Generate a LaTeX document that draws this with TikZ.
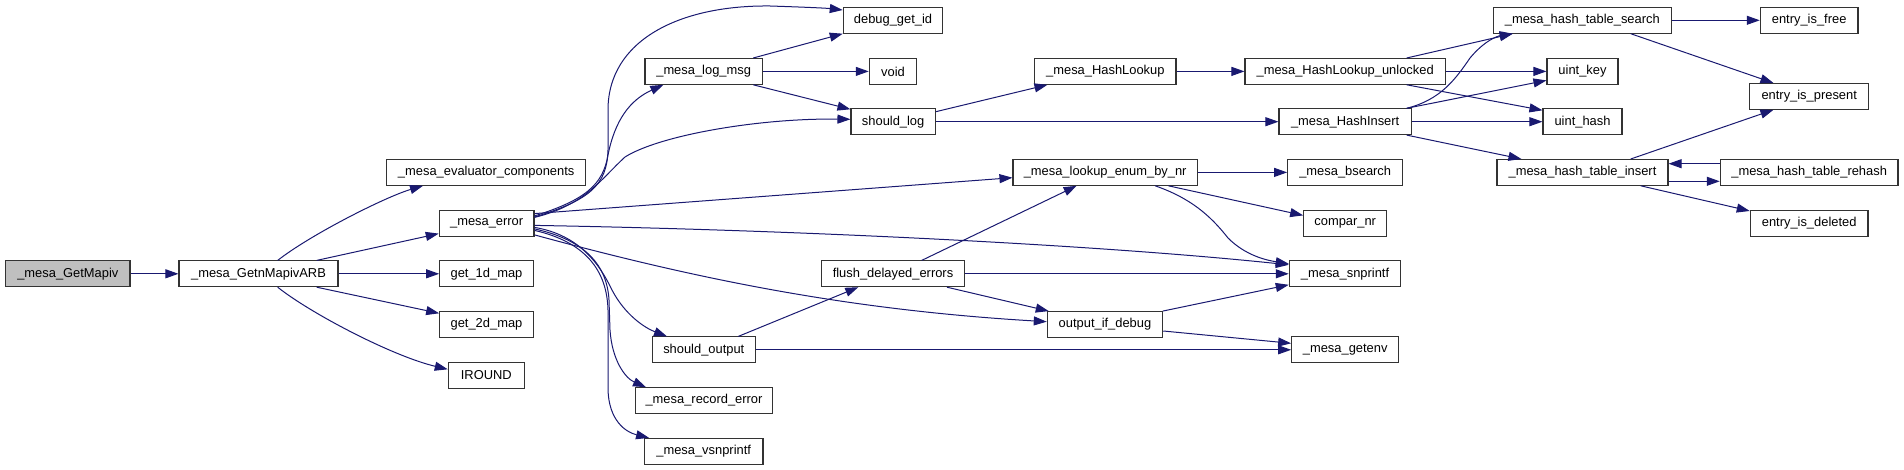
\documentclass[tikz,border=0pt]{standalone}
\usepackage{fontspec}
\setmainfont{Liberation Sans}
\usetikzlibrary{arrows.meta}
\begin{document}
\begin{tikzpicture}[x=1pt,y=-1pt,
  fn/.style={draw=black!80, fill=white, line width=1.1pt, inner sep=0pt,
    minimum height=25.7pt, font=\fontsize{12.9}{14}\selectfont},
  root/.style={fn, fill=black!25},
  call/.style={draw={rgb,255:red,25;green,25;blue,112}, line width=1pt,
    arrows={-{Triangle[length=13pt,width=9pt,fill={rgb,255:red,25;green,25;blue,112}]}}}]
\useasboundingbox (0,0) rectangle (1904,470);
% nodes
\node[root, minimum width=124.3pt] (gm)  at (67.85,273.8)  {\_mesa\_GetMapiv};
\node[fn, minimum width=159pt]     (arb) at (258.5,273.8)  {\_mesa\_GetnMapivARB};
\node[fn, minimum width=199pt]     (evc) at (486.2,172.4)  {\_mesa\_evaluator\_components};
\node[fn, minimum width=94.7pt]    (err) at (486.65,223.4) {\_mesa\_error};
\node[fn, minimum width=93.6pt]    (g1)  at (486.5,273.8)  {get\_1d\_map};
\node[fn, minimum width=93.6pt]    (g2)  at (486.5,324.5)  {get\_2d\_map};
\node[fn, minimum width=76pt]      (ir)  at (486.3,375.2)  {IROUND};
\node[fn, minimum width=99.4pt]    (dbg) at (893,20.3)     {debug\_get\_id};
\node[fn, minimum width=117.3pt]   (lm)  at (703.65,71.4)  {\_mesa\_log\_msg};
\node[fn, minimum width=47.4pt]    (vd)  at (893,71.4)     {void};
\node[fn, minimum width=84.3pt]    (sl)  at (893.15,121.7) {should\_log};
\node[fn, minimum width=142.6pt]   (fde) at (893,273.8)    {flush\_delayed\_errors};
\node[fn, minimum width=103pt]     (so)  at (703.8,349.8)  {should\_output};
\node[fn, minimum width=137.4pt]   (rec) at (704,400.6)    {\_mesa\_record\_error};
\node[fn, minimum width=118.7pt]   (vsn) at (703.65,451.3) {\_mesa\_vsnprintf};
\node[fn, minimum width=141.3pt]   (hl)  at (1105.35,71.4) {\_mesa\_HashLookup};
\node[fn, minimum width=200.3pt]   (hlu) at (1345.15,71.4) {\_mesa\_HashLookup\_unlocked};
\node[fn, minimum width=132.3pt]   (hi)  at (1345.15,121.7){\_mesa\_HashInsert};
\node[fn, minimum width=184.3pt]   (le)  at (1105.15,172.4){\_mesa\_lookup\_enum\_by\_nr};
\node[fn, minimum width=115pt]     (bs)  at (1345.2,172.4) {\_mesa\_bsearch};
\node[fn, minimum width=83pt]      (cn)  at (1345.2,223.4) {compar\_nr};
\node[fn, minimum width=111.4pt]   (sn)  at (1345,273.8)   {\_mesa\_snprintf};
\node[fn, minimum width=115.4pt]   (oid) at (1105,324.5)   {output\_if\_debug};
\node[fn, minimum width=107pt]     (ge)  at (1345.2,349.8) {\_mesa\_getenv};
\node[fn, minimum width=178pt]     (hts) at (1582.3,20.3)  {\_mesa\_hash\_table\_search};
\node[fn, minimum width=71pt]      (uk)  at (1582.5,71.4)  {uint\_key};
\node[fn, minimum width=79pt]      (uh)  at (1582.5,121.7) {uint\_hash};
\node[fn, minimum width=171pt]     (hti) at (1582.5,172.4) {\_mesa\_hash\_table\_insert};
\node[fn, minimum width=97.7pt]    (eif) at (1809.15,20.3) {entry\_is\_free};
\node[fn, minimum width=119pt]     (eip) at (1809.2,96.4)  {entry\_is\_present};
\node[fn, minimum width=177.7pt]   (rh)  at (1809.15,172.4){\_mesa\_hash\_table\_rehash};
\node[fn, minimum width=117.7pt]   (eid) at (1809.15,223.4){entry\_is\_deleted};
% edges
\draw[call] (gm.east) -- (arb.west);
\draw[call] ([xshift=19.2pt]arb.north) .. controls (310,235) and (385,197) .. ([xshift=-63.2pt]evc.south);
\draw[call] ([xshift=58.2pt]arb.north) -- ([yshift=-10.2pt]err.west);
\draw[call] (arb.east) -- (g1.west);
\draw[call] ([xshift=58.2pt]arb.south) -- ([yshift=11.2pt]g2.west);
\draw[call] ([xshift=19.2pt]arb.south) .. controls (310,313) and (392,356) .. ([yshift=5.9pt]ir.west);
% _mesa_error
\draw[call] ([yshift=6.4pt]err.east) .. controls (590,200) and (607,185) .. (608,150) -- (608,110)
   .. controls (608,40) and (680,5) .. (770,6) .. controls (800,7) and (825,8) .. ([yshift=10.3pt]dbg.west);
\draw[call] ([yshift=7.5pt]err.east) .. controls (585,200) and (603,185) .. (608,155)
   .. controls (615,120) and (630,100) .. ([xshift=-40.3pt]lm.south);
\draw[call] ([yshift=6pt]err.east) .. controls (585,205) and (600,180) .. (625,157)
   .. controls (660,135) and (760,118) .. ([yshift=2.4pt]sl.west);
\draw[call] ([yshift=9.8pt]err.east) -- ([yshift=-5.3pt]le.west);
\draw[call] ([yshift=-2pt]err.east) .. controls (800,230) and (1100,245) .. ([yshift=9pt]sn.west);
\draw[call] ([yshift=-11.5pt]err.east) .. controls (700,280) and (850,310) .. ([yshift=2.8pt]oid.west);
\draw[call] ([yshift=-4pt]err.east) .. controls (580,235) and (600,265) .. (612,290)
   .. controls (625,315) and (645,328) .. ([xshift=-36.8pt]so.north);
\draw[call] ([yshift=-5.5pt]err.east) .. controls (585,240) and (607,265) .. (609,300) -- (610,330)
   .. controls (612,360) and (625,378) .. ([xshift=-58pt]rec.north);
\draw[call] ([yshift=-7pt]err.east) .. controls (585,242) and (607,270) .. (608,310) -- (608,390)
   .. controls (609,420) and (625,432) .. ([xshift=-54.6pt]vsn.north);
% _mesa_log_msg
\draw[call] ([xshift=49.6pt]lm.north) -- (dbg.south west);
\draw[call] (lm.east) -- (vd.west);
\draw[call] ([xshift=49.6pt]lm.south) -- ([yshift=-1pt]sl.north west);
% should_log
\draw[call] ([yshift=10pt]sl.east) -- ([xshift=13.3pt]hl.south west);
\draw[call] (sl.east) -- (hi.west);
\draw[call] (hl.east) -- (hlu.west);
% hash lookup unlocked
\draw[call] ([xshift=61.5pt]hlu.north) -- ([xshift=20pt]hts.south west);
\draw[call] (hlu.east) -- (uk.west);
\draw[call] ([xshift=61.5pt]hlu.south) -- ([yshift=-2pt]uh.north west);
% hash insert
\draw[call] ([xshift=61.5pt]hi.north) .. controls (1440,100) and (1455,80) .. (1470,58)
   .. controls (1485,40) and (1498,36) .. ([xshift=20pt]hts.south west);
\draw[call] ([xshift=61.5pt]hi.north) -- ([yshift=-9pt]uk.west);
\draw[call] (hi.east) -- (uh.west);
\draw[call] ([xshift=61.5pt]hi.south) -- ([xshift=25pt]hti.north west);
% hash table
\draw[call] (hts.east) -- (eif.west);
\draw[call] ([xshift=48.4pt]hts.south) -- ([xshift=24.3pt]eip.north west);
\draw[call] ([xshift=48.2pt]hti.north) -- ([xshift=24.3pt]eip.south west);
\draw[call] ([yshift=-8.9pt]hti.east) -- ([yshift=-8.9pt]rh.west);
\draw[call] ([yshift=8.7pt]rh.west) -- ([yshift=8.7pt]hti.east);
\draw[call] ([xshift=58.2pt]hti.south) -- ([yshift=-1pt]eid.north west);
% lookup enum
\draw[call] (le.east) -- (bs.west);
\draw[call] ([xshift=63.2pt]le.south) -- ([yshift=8pt]cn.west);
\draw[call] ([xshift=50pt]le.south) .. controls (1190,198) and (1210,215) .. (1228,238)
   .. controls (1245,255) and (1265,260) .. ([yshift=10pt]sn.west);
% flush / output
\draw[call] ([xshift=28.7pt]fde.north) -- ([xshift=-28.5pt]le.south);
\draw[call] (fde.east) -- (sn.west);
\draw[call] ([xshift=54pt]fde.south) -- ([xshift=2pt]oid.north west);
\draw[call] ([xshift=57.7pt]oid.north) -- ([yshift=-11pt]sn.west);
\draw[call] ([yshift=-6.5pt]oid.east) -- ([yshift=6.5pt]ge.west);
\draw[call] ([xshift=34.5pt]so.north) -- ([xshift=-34.7pt]fde.south);
\draw[call] (so.east) -- (ge.west);
\end{tikzpicture}
\end{document}
